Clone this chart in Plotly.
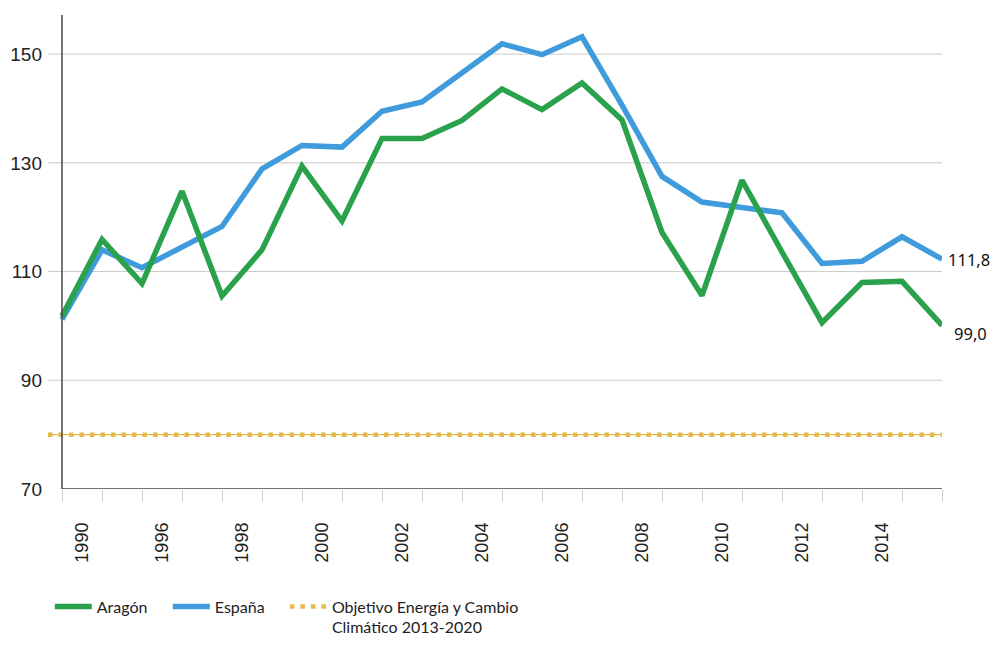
import plotly.graph_objects as go

# ---- data ----
n_points = 23
year_labels = ["1990", "1996", "1998", "2000", "2002", "2004", "2006",
               "2008", "2010", "2012", "2014"]
aragon = [101.8, 115.9, 107.8, 124.8, 105.5, 114.0, 129.4, 119.3, 134.5, 134.5,
          137.8, 143.6, 139.8, 144.7, 137.9, 117.2, 105.6, 126.8, 113.6, 100.6,
          108.0, 108.2, 100.1]
espana = [101.2, 114.0, 110.7, 114.5, 118.3, 128.9, 133.2, 132.9, 139.5, 141.2,
          146.5, 151.9, 149.9, 153.2, 140.6, 127.5, 122.8, 121.7, 120.8, 111.5,
          111.9, 116.4, 112.3]
objetivo = 80
end_labels = ["111,8", "99,0"]
y_ticks = [70, 90, 110, 130, 150]
grid_vals = [90, 110, 130, 150]

GREEN = "#2aa14b"
BLUE = "#3f9bdc"
GOLD = "#e6b94c"
TICKFONT = "Liberation Sans, Arial, sans-serif"
TEXTFONT = "Noto Sans, sans-serif"
LEGFONT = dict(family="Lato, sans-serif", size=16, color="#222222")

xs = list(range(n_points))
y_min, y_max = 70, 157.2
x_lo, x_hi = -0.35, xs[-1]

fig = go.Figure()
fig.add_trace(go.Scatter(x=xs, y=espana, mode="lines", name="España",
                         line=dict(color=BLUE, width=5.5), legend="legend2"))
fig.add_trace(go.Scatter(x=xs, y=aragon, mode="lines", name="Aragón",
                         line=dict(color=GREEN, width=5.5), legend="legend"))

shapes = []
for g in grid_vals:
    shapes.append(dict(type="line", xref="paper", yref="y", x0=0, x1=1, y0=g, y1=g,
                       line=dict(color="#c9c9c9", width=1), layer="below"))
# objective: thin line + square dots
shapes.append(dict(type="line", xref="paper", yref="y", x0=0, x1=1, y0=objetivo, y1=objetivo,
                   line=dict(color=GOLD, width=1.2), layer="below"))
shapes.append(dict(type="line", xref="paper", yref="y", x0=0, x1=1, y0=objetivo, y1=objetivo,
                   line=dict(color=GOLD, width=4.5, dash="4.5px,6px"), layer="below",
                   showlegend=True, name="Objetivo Energía y Cambio<br>Climático 2013-2020",
                   legend="legend3"))
# axis lines
shapes.append(dict(type="line", xref="x", yref="y", x0=xs[0], x1=xs[0], y0=y_min, y1=y_max,
                   line=dict(color="#444444", width=1.5)))
shapes.append(dict(type="line", xref="x", yref="y", x0=xs[0], x1=xs[-1], y0=y_min, y1=y_min,
                   line=dict(color="#444444", width=1.5)))

annotations = [
    dict(x=xs[-1], y=espana[-1], xref="x", yref="y", text=end_labels[0], showarrow=False,
         xanchor="left", yanchor="middle", xshift=4, yshift=0,
         font=dict(family=TEXTFONT, size=16.5, color="#111111")),
    dict(x=xs[-1], y=aragon[-1], xref="x", yref="y", text=end_labels[1], showarrow=False,
         xanchor="left", yanchor="middle", xshift=10, yshift=-8,
         font=dict(family=TEXTFONT, size=16.5, color="#111111")),
]

leg_common = dict(orientation="h", xanchor="left", y=-0.212, yanchor="top",
                  font=LEGFONT, valign="top", bgcolor="rgba(0,0,0,0)", itemwidth=37)

fig.update_layout(
    width=982, height=629,
    margin=dict(l=40, r=48, t=7, b=148, autoexpand=False),
    paper_bgcolor="white", plot_bgcolor="white",
    shapes=shapes, annotations=annotations,
    showlegend=True,
    legend=dict(x=0.002, **leg_common),
    legend2=dict(x=0.134, **leg_common),
    legend3=dict(x=0.265, **leg_common),
    xaxis=dict(range=[x_lo, x_hi], showgrid=False, zeroline=False, showline=False,
               automargin=False,
               tickmode="array",
               tickvals=[2 * i + 0.5 for i in range(len(year_labels))],
               ticktext=year_labels, tickangle=-90, ticks="",
               ticklabelstandoff=29,
               tickfont=dict(family=TICKFONT, size=18, color="#222222"),
               minor=dict(tickmode="array", tickvals=xs, ticks="outside", ticklen=12,
                          tickcolor="#cccccc", tickwidth=1, showgrid=False)),
    yaxis=dict(range=[y_min, y_max], showgrid=False, zeroline=False, showline=False,
               automargin=False,
               tickmode="array", tickvals=y_ticks, ticks="",
               ticklabelstandoff=5,
               tickfont=dict(family=TICKFONT, size=19, color="#222222")),
)

fig.write_html("out.html")
